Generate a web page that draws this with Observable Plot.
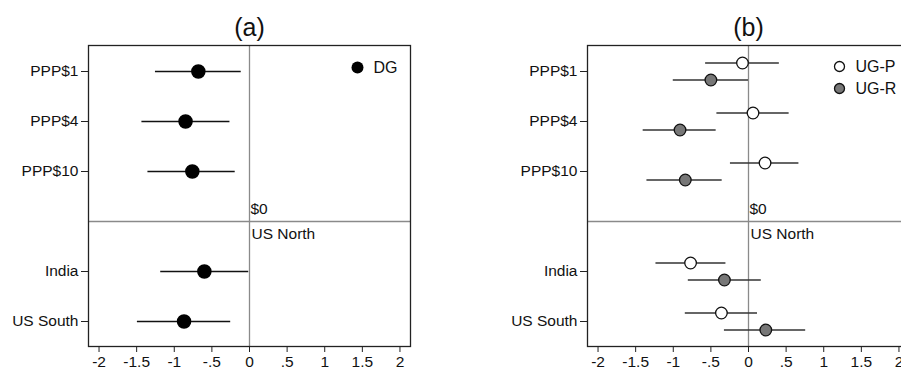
<!DOCTYPE html>
<html>
<head>
<meta charset="utf-8">
<script src="https://cdn.jsdelivr.net/npm/d3@7"></script>
<script src="https://cdn.jsdelivr.net/npm/@observablehq/plot@0.6"></script>
<style>
  html, body { margin: 0; padding: 0; background: #fff; overflow: hidden; }
  #wrap { position: relative; width: 901px; height: 369px; overflow: hidden; }
  #pa, #pb { position: absolute; top: 0; }
  #pa { left: 0; width: 450px; }
  #pb { left: 450px; width: 460px; }
  svg { font-family: "Liberation Sans", Arial, sans-serif; overflow: visible; max-width: none !important; }
</style>
</head>
<body>
<div id="wrap"><div id="pa"></div><div id="pb"></div></div>
<script>
// ---- Data ----
const categories = ["PPP$1", "PPP$4", "PPP$10", " ", "India", "US South"];
const rowLabels = ["PPP$1", "PPP$4", "PPP$10", "India", "US South"];
const xTicks = [-2, -1.5, -1, -0.5, 0, 0.5, 1, 1.5, 2];

// Panel (a): DG
const dgEst = [-0.68, -0.85, -0.76, -0.60, -0.87];
const dgLo  = [-1.25, -1.43, -1.35, -1.18, -1.49];
const dgHi  = [-0.11, -0.26, -0.19, -0.01, -0.25];

// Panel (b): UG-P and UG-R
const ugpEst = [-0.08, 0.06, 0.22, -0.77, -0.36];
const ugpLo  = [-0.57, -0.42, -0.24, -1.23, -0.84];
const ugpHi  = [0.41, 0.54, 0.67, -0.30, 0.12];
const ugrEst = [-0.50, -0.91, -0.84, -0.32, 0.23];
const ugrLo  = [-1.00, -1.40, -1.35, -0.80, -0.32];
const ugrHi  = [0.00, -0.43, -0.35, 0.17, 0.76];

const toRows = (est, lo, hi) => rowLabels.map((c, i) => ({cat: c, est: est[i], lo: lo[i], hi: hi[i]}));
const dg = toRows(dgEst, dgLo, dgHi);
const ugp = toRows(ugpEst, ugpLo, ugpHi);
const ugr = toRows(ugrEst, ugrLo, ugrHi);

const fmt = d => String(d).replace("0.", ".");
const FONT = 15.5;

function basePanel(title, width, marginRight, marginLeft, marks) {
  return Plot.plot({
    width, height: 369,
    marginLeft, marginRight, marginTop: 45, marginBottom: 23,
    style: {fontFamily: '"Liberation Sans", Arial, sans-serif', fontSize: FONT + "px", color: "#111", background: "transparent"},
    x: {domain: [-2.14, 2.14], ticks: xTicks, tickFormat: fmt},
    y: {type: "point", domain: categories, padding: 0.5},
    marks: [
      Plot.ruleY([" "], {stroke: "#8a8a8a", strokeWidth: 1.3}),
      Plot.ruleX([0], {stroke: "#8a8a8a", strokeWidth: 1.3}),
      Plot.text(["$0"], {x: 0, y: () => " ", dy: -12, dx: 1, textAnchor: "start", fontSize: FONT, fill: "#111"}),
      Plot.text(["US North"], {x: 0, y: () => " ", dy: 13, dx: 2, textAnchor: "start", fontSize: FONT, fill: "#111"}),
      ...marks,
      Plot.frame({stroke: "#222", strokeWidth: 1.3}),
      Plot.axisX({ticks: xTicks, tickFormat: fmt, tickSize: 6, tickPadding: 3, label: null, fontSize: FONT, stroke: "#222"}),
      Plot.axisY({ticks: rowLabels, tickSize: 7, tickPadding: 3, label: null, fontSize: FONT, stroke: "#222"}),
      Plot.text([title], {frameAnchor: "top", lineAnchor: "middle", dy: -18, fontSize: 25, fill: "#111"})
    ]
  });
}

// Panel (a)
const pa = basePanel("(a)", 450, 40, 88, [
  Plot.ruleY(dg, {y: "cat", x1: "lo", x2: "hi", stroke: "#111", strokeWidth: 1.7}),
  Plot.dot(dg, {x: "est", y: "cat", r: 6.5, fill: "#000", stroke: "#000"}),
  Plot.dot(["DG"], {frameAnchor: "top-right", dx: -53, dy: 22, r: 6, fill: "#000"}),
  Plot.text(["DG"], {frameAnchor: "top-right", lineAnchor: "middle", dx: -37, dy: 22, textAnchor: "start", fontSize: 16, fill: "#111"})
]);
document.getElementById("pa").appendChild(pa);

// Panel (b)
const pb = basePanel("(b)", 460, 1, 137, [
  Plot.ruleY(ugp, {y: "cat", x1: "lo", x2: "hi", dy: -8.5, stroke: "#333", strokeWidth: 1.7}),
  Plot.ruleY(ugr, {y: "cat", x1: "lo", x2: "hi", dy: 8.5, stroke: "#333", strokeWidth: 1.7}),
  Plot.dot(ugp, {x: "est", y: "cat", dy: -8.5, r: 5.8, fill: "#fff", stroke: "#111", strokeWidth: 1.3}),
  Plot.dot(ugr, {x: "est", y: "cat", dy: 8.5, r: 5.8, fill: "#777", stroke: "#111", strokeWidth: 1.3}),
  Plot.dot(["UG-P"], {frameAnchor: "top-right", dx: -70, dy: 21, r: 5, fill: "#fff", stroke: "#111", strokeWidth: 1.3}),
  Plot.text(["UG-P"], {frameAnchor: "top-right", lineAnchor: "middle", dx: -54, dy: 21, textAnchor: "start", fontSize: 16, fill: "#111"}),
  Plot.dot(["UG-R"], {frameAnchor: "top-right", dx: -70, dy: 43, r: 5, fill: "#777", stroke: "#111", strokeWidth: 1.3}),
  Plot.text(["UG-R"], {frameAnchor: "top-right", lineAnchor: "middle", dx: -54, dy: 43, textAnchor: "start", fontSize: 16, fill: "#111"})
]);
document.getElementById("pb").appendChild(pb);
</script>
</body>
</html>
